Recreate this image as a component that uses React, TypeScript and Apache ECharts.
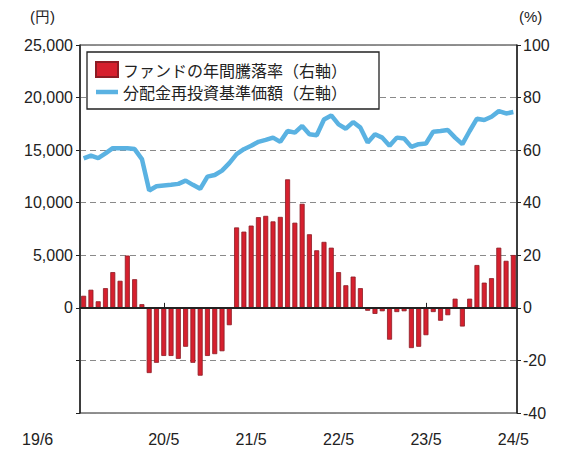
import React, { useEffect, useRef } from "react";
import * as echarts from "echarts";

const categories = [
  "19/6", "19/7", "19/8", "19/9", "19/10", "19/11", "19/12",
  "20/1", "20/2", "20/3", "20/4", "20/5", "20/6", "20/7", "20/8", "20/9", "20/10", "20/11", "20/12",
  "21/1", "21/2", "21/3", "21/4", "21/5", "21/6", "21/7", "21/8", "21/9", "21/10", "21/11", "21/12",
  "22/1", "22/2", "22/3", "22/4", "22/5", "22/6", "22/7", "22/8", "22/9", "22/10", "22/11", "22/12",
  "23/1", "23/2", "23/3", "23/4", "23/5", "23/6", "23/7", "23/8", "23/9", "23/10", "23/11", "23/12",
  "24/1", "24/2", "24/3", "24/4", "24/5",
];

const shownLabels = ["19/6", "20/5", "21/5", "22/5", "23/5", "24/5"];

// ファンドの年間騰落率（%、右軸）
const annualReturn = [
  4.6, 6.9, 2.5, 7.5, 13.6, 10.3, 19.9, 10.9, 1.4,
  -24.8, -20.9, -18.3, -18.3, -19.4, -14.8, -20.9, -25.8, -18.3, -17.6, -16.5, -6.6,
  30.6, 29.0, 31.3, 34.5, 35.0, 32.9, 34.6, 48.9, 32.4, 39.6, 28.0, 21.9, 25.1, 22.9, 13.6, 8.6, 11.9, 7.5,
  -1.1, -2.3, -1.3, -12.1, -1.6, -1.3, -15.3, -14.8, -10.4, -1.6, -4.9, -2.8, 3.5, -7.1, 3.5,
  16.3, 9.6, 11.3, 22.9, 17.9, 20.1,
];

// 分配金再投資基準価額（円、左軸）
const navReinvested = [
  14210, 14470, 14250, 14690, 15190, 15190, 15190, 15100, 14150, 11160,
  11570, 11640, 11700, 11790, 12100, 11700, 11320, 12480, 12640, 13050,
  13770, 14620, 15090, 15410, 15790, 15970, 16190, 15790, 16820, 16670,
  17300, 16510, 16420, 17920, 18300, 17450, 17040, 17670, 17140, 15720,
  16510, 16190, 15410, 16190, 16100, 15310, 15570, 15630, 16760, 16820,
  16920, 16190, 15570, 16820, 17990, 17860, 18180, 18710, 18490, 18620,
];

const barName = "ファンドの年間騰落率（右軸）";
const lineName = "分配金再投資基準価額（左軸）";

const FONT = "'Liberation Sans', Arial, 'Noto Sans CJK JP', sans-serif";
const JFONT = "'Noto Sans CJK JP', 'Liberation Sans', sans-serif";

export default function App() {
  const ref = useRef<HTMLDivElement>(null);

  useEffect(() => {
    if (!ref.current) return;
    const chart = echarts.init(ref.current, undefined, { renderer: "svg" });
    const shownIdx = shownLabels.map((l) => categories.indexOf(l));
    chart.setOption({
      animation: false,
      backgroundColor: "#ffffff",
      textStyle: { fontFamily: FONT },
      grid: {
        left: 80,
        right: 46,
        top: 45,
        bottom: 37,
        show: true,
        borderColor: "#222",
        borderWidth: 1,
        backgroundColor: "transparent",
      },
      legend: {
        left: 87,
        top: 52,
        orient: "vertical",
        backgroundColor: "#fff",
        borderColor: "#222",
        borderWidth: 1.3,
        borderRadius: 0,
        padding: [9, 32, 9, 8],
        itemGap: 6,
        itemWidth: 22,
        itemHeight: 15,
        textStyle: { fontSize: 16, color: "#222", fontFamily: JFONT },
        data: [
          { name: barName, icon: "rect" },
          { name: lineName, icon: "path://M0,0 L22,0 L22,4.5 L0,4.5 Z" },
        ],
      },
      graphic: [
        {
          type: "text",
          left: 30,
          top: 9,
          style: { text: "(円)", fontSize: 15, fill: "#222", font: `15px ${JFONT}` },
        },
        {
          type: "text",
          left: 519,
          top: 9,
          style: { text: "(%)", fontSize: 15, fill: "#222", font: `15px ${FONT}` },
        },
      ],
      xAxis: {
        type: "category",
        data: categories,
        boundaryGap: true,
        axisLine: { show: true, lineStyle: { color: "#222", width: 1.5 } },
        axisTick: {
          show: true,
          inside: true,
          length: 5,
          alignWithLabel: true,
          interval: (i: number) => shownIdx.includes(i) && i !== 0,
          lineStyle: { color: "#222" },
        },
        axisLabel: {
          interval: (i: number) => shownIdx.includes(i),
          margin: 18,
          fontSize: 16,
          color: "#222",
          fontFamily: FONT,
          formatter: (v: string, i: number) => (i === 0 ? `{first|${v}}` : v),
          rich: {
            first: { fontSize: 16, color: "#222", fontFamily: FONT, padding: [0, 92, 0, 0] },
          },
        },
        splitLine: { show: false },
      },
      yAxis: [
        {
          type: "value",
          min: -10000,
          max: 25000,
          interval: 5000,
          position: "left",
          axisLine: { show: true, lineStyle: { color: "#222", width: 1.5 } },
          axisTick: { show: true, length: 4, lineStyle: { color: "#222" } },
          axisLabel: {
            fontSize: 16,
            color: "#222",
            margin: 7,
            fontFamily: FONT,
            formatter: (v: number) => (v < 0 ? "" : v.toLocaleString("en-US")),
          },
          splitLine: {
            show: true,
            lineStyle: { color: "#8a8a8a", type: [6, 4], width: 1 },
          },
        },
        {
          type: "value",
          min: -40,
          max: 100,
          interval: 20,
          position: "right",
          axisLine: { show: true, lineStyle: { color: "#222", width: 1.5 } },
          axisTick: { show: true, length: 4, lineStyle: { color: "#222" } },
          axisLabel: { fontSize: 16, color: "#222", margin: 6, fontFamily: FONT },
          splitLine: { show: false },
        },
      ],
      series: [
        {
          name: barName,
          type: "bar",
          yAxisIndex: 1,
          data: annualReturn,
          barWidth: 5,
          itemStyle: { color: "#d6202e", borderColor: "#8c1c24", borderWidth: 0.8 },
          markLine: {
            silent: true,
            symbol: "none",
            label: { show: false },
            lineStyle: { color: "#222", width: 2, type: "solid" },
            data: [{ yAxis: 0 }],
          },
          z: 2,
        },
        {
          name: lineName,
          type: "line",
          yAxisIndex: 0,
          data: navReinvested,
          symbol: "none",
          lineStyle: { color: "#5ab2e2", width: 4.5 },
          itemStyle: { color: "#5ab2e2" },
          z: 3,
        },
      ],
    });
    return () => chart.dispose();
  }, []);

  return <div ref={ref} style={{ width: 563, height: 450, position: "absolute", left: 0, top: 0 }} />;
}
